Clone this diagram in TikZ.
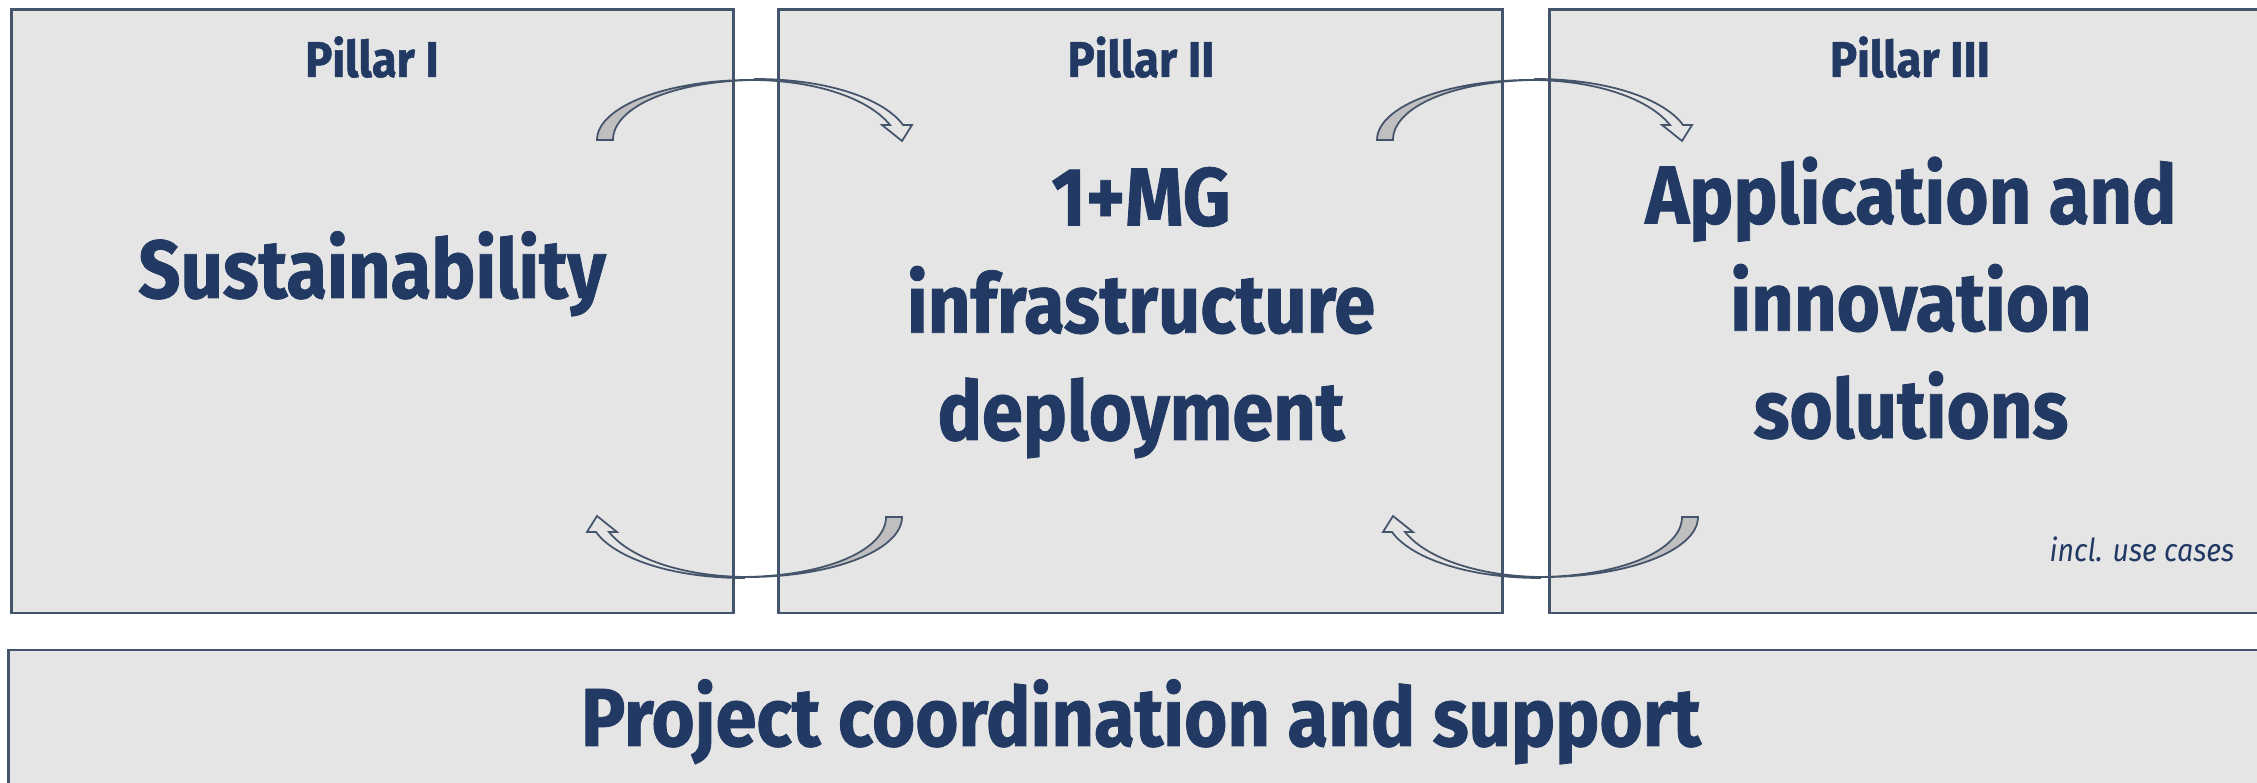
\documentclass[tikz,border=0pt]{standalone}
\usepackage{fontspec}
\setmainfont{Fira Sans}[FakeStretch=0.9, BoldFeatures={FakeBold=1}]
\definecolor{ecnavy}{RGB}{33,57,99}
\definecolor{frameline}{RGB}{68,84,106}
\definecolor{boxfill}{RGB}{229,229,229}
\definecolor{backfill}{RGB}{191,191,191}
\tikzset{
  pillar box/.style={draw=frameline, line width=0.75pt, fill=boxfill, inner sep=0pt, outer sep=0pt},
  head text/.style={font=\fontsize{14.3}{17}\selectfont\bfseries, text=ecnavy, anchor=base},
  big text/.style={font=\fontsize{23.4}{30.5}\selectfont\bfseries, text=ecnavy, align=center, anchor=base},
  loop arrow/.pic={
    % grey back of the arrow
    \draw[frameline, line width=0.5pt, fill=backfill] (-153,30) -- (-137,30)
      .. controls (-137,-3) and (-77,-29) .. (5,-30)
      .. controls (-80,-31) and (-153,-4) .. (-153,30) -- cycle;
    % front of the arrow with its head
    \draw[frameline, line width=0.5pt, fill=boxfill] (5,-31)
      .. controls (80,-31) and (135,-10) .. (153,15) -- (162,15) -- (152,31) -- (132,15) -- (140,15)
      .. controls (120,-10) and (70,-29) .. (5,-30) -- cycle;
  }
}
\begin{document}
\begin{tikzpicture}[x=0.01cm, y=-0.01cm]
\useasboundingbox (0,0) rectangle (2257,783);
% pillars
\node[pillar box, minimum width=7.21cm, minimum height=6.03cm] (p1) at (372.5,311.5) {};
\node[pillar box, minimum width=7.23cm, minimum height=6.03cm] (p2) at (1140.5,311.5) {};
\node[pillar box, minimum width=7.15cm, minimum height=6.03cm] (p3) at (1907.5,311.5) {};
\node[pillar box, minimum width=22.56cm, minimum height=1.5cm] (pc) at (1137,725) {};
% arrows between pillars
\pic (a1) at (750,110) {loop arrow};
\pic (a2) at (1530,110) {loop arrow};
\pic[rotate=180] (b1) at (749,547) {loop arrow};
\pic[rotate=180] (b2) at (1545,547) {loop arrow};
% texts
\node[head text] (h1) at (372,77) {Pillar I};
\node[head text] (h2) at (1141,77) {Pillar II};
\node[head text] (h3) at (1910,77) {Pillar III};
\node[big text] (t1) at (372,298) {Sustainability};
\node[big text] (t2) at (1141,440) {1+MG\\infrastructure\\deployment};
\node[big text] (t3) at (1911,438) {Application and\\innovation\\solutions};
\node[font=\fontsize{9}{11}\selectfont\itshape, text=ecnavy, anchor=base east, inner sep=0pt] (uc) at (2235,562) {incl. use cases};
\node[big text] (t4) at (1141,746) {Project coordination and support};
\end{tikzpicture}
\end{document}
